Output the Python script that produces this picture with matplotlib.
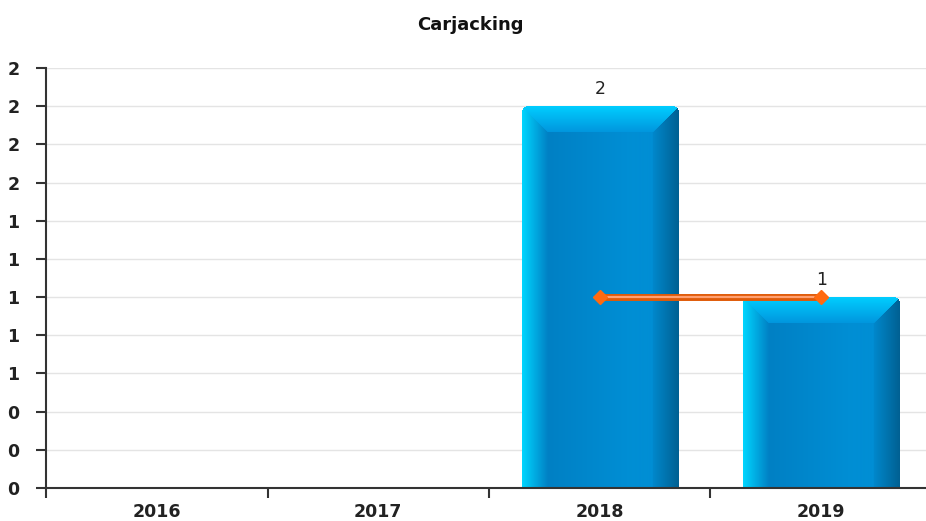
import numpy as np
import matplotlib.pyplot as plt

years = ['2016', '2017', '2018', '2019']
counts = [0, 0, 2, 1]
trend = [np.nan, np.nan, 1, 1]
y_ticks = [0, 0.2, 0.4, 0.6, 0.8, 1.0, 1.2, 1.4, 1.6, 1.8, 2.0, 2.2]
y_labels = ['0', '0', '0', '1', '1', '1', '1', '1', '2', '2', '2', '2']


def lerp(a, b, t):
    a = np.array(a) / 255
    b = np.array(b) / 255
    t = np.clip(t, 0, 1)[..., None]
    return a * (1 - t) + b * t


def bar_image(w, h, bev=26, rad=6):
    # fake 3d bevelled bar, built in pixel space
    X, Y = np.meshgrid(np.arange(w) + 0.5, np.arange(h) + 0.5)
    dl, dr, dt = X, w - X, Y
    img = np.ones((h, w, 4))
    # face: slight horizontal shading
    img[..., :3] = lerp((0, 128, 196), (0, 142, 212), (X - bev) / (w * 0.5))
    top = (dt < bev) & (dt <= dl) & (dt <= dr)
    left = (dl < bev) & (dl < dt)
    right = (dr < bev) & (dr < dt) & ~left
    img[..., :3] = np.where(top[..., None], lerp((0, 206, 255), (0, 150, 222), dt / bev), img[..., :3])
    img[..., :3] = np.where(left[..., None], lerp((0, 214, 255), (0, 128, 196), dl / bev), img[..., :3])
    img[..., :3] = np.where(right[..., None], lerp((0, 96, 146), (0, 136, 204), dr / bev), img[..., :3])
    # rounded top corners
    d_l = np.hypot(X - rad, Y - rad)
    d_r = np.hypot(X - (w - rad), Y - rad)
    mask = (Y < rad) & (((X < rad) & (d_l > rad)) | ((X > w - rad) & (d_r > rad)))
    img[..., 3][mask] = 0
    return img


fig = plt.figure(figsize=(9.26, 5.21), dpi=100)
ax = fig.add_axes([46 / 926, 33 / 521, 886 / 926, 420 / 521])
x = np.arange(len(years))

ax.set_yticks(y_ticks)
ax.set_yticklabels(y_labels, fontsize=12.5, fontweight='bold', color='#222222')
ax.yaxis.grid(True, color='#e4e4e4', linewidth=1)
ax.set_axisbelow(True)
ax.tick_params(axis='y', length=7, width=1.5, color='#333333', pad=12)

ax.set_xticks([-0.5, 0.5, 1.5, 2.5])
ax.set_xticklabels([])
ax.set_xticks(x, minor=True)
ax.set_xticklabels(years, minor=True, fontsize=12.5, fontweight='bold', color='#222222')
ax.tick_params(axis='x', which='major', length=7, width=1.5, color='#333333')
ax.tick_params(axis='x', which='minor', length=0, pad=11)

for s in ['top', 'right']:
    ax.spines[s].set_visible(False)
for s in ['left', 'bottom']:
    ax.spines[s].set_linewidth(1.5)
    ax.spines[s].set_color('#333333')

bw = 0.705
px_x = 886 / 4
px_y = 420 / 2.2
for xi, v in zip(x, counts):
    if v <= 0:
        continue
    img = bar_image(int(round(bw * px_x)), int(round(v * px_y)))
    ax.imshow(img, extent=(xi - bw / 2, xi + bw / 2, 0, v), aspect='auto',
              interpolation='bilinear', zorder=2)
    ax.text(xi, v + 0.045, str(v), ha='center', va='bottom', fontsize=12.5, color='#222222', zorder=4)

ax.plot(x, trend, color='#e05a08', linewidth=5, zorder=3, solid_capstyle='butt')
ax.plot(x, trend, color='#ffa070', linewidth=1.6, zorder=3)
ax.plot(x, trend, linestyle='none', marker='D', markersize=7, color='#ff6a10', zorder=4)

ax.set_xlim(-0.5, 3.5)
ax.set_ylim(0, 2.2)
fig.text(470 / 926, 1 - 25 / 521, 'Carjacking', ha='center', va='center',
         fontsize=13, fontweight='bold', color='#111111')

fig.savefig('out.png', dpi=100)
